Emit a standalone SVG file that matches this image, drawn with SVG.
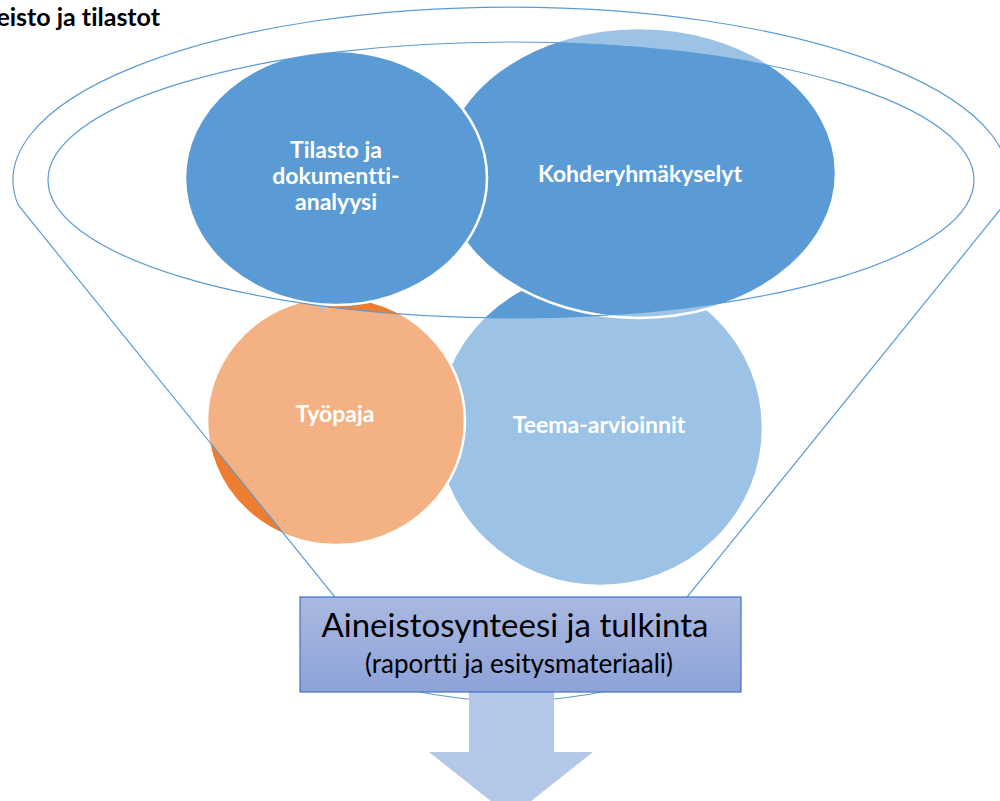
<svg xmlns="http://www.w3.org/2000/svg" width="1000" height="801" viewBox="0 0 1000 801">
  <defs>
    <linearGradient id="boxGrad" x1="0" y1="0" x2="0" y2="1">
      <stop offset="0" stop-color="#AAB9E1"/>
      <stop offset="1" stop-color="#8DA2D7"/>
    </linearGradient>
  </defs>
  <style>
    text { font-variant-ligatures: none; font-feature-settings: "liga" 0, "clig" 0; }
    .circ { stroke: #FFFFFF; stroke-width: 2.5; }
    .blue { fill: #5B9BD5; }
    .orange { fill: #ED7D31; }
    .lbl { font-family: Lato, "Open Sans", sans-serif; font-weight: bold; font-size: 23px; fill: #FFFFFF; text-anchor: middle; }
    .funnelLine { fill: none; stroke: #5B9BD5; stroke-width: 1.2; }
    .boxTxt { font-family: Lato, "Open Sans", sans-serif; fill: #000000; text-anchor: middle; }
  </style>
  <rect width="1000" height="801" fill="#FFFFFF"/>

  <text id="title" x="160" y="26" text-anchor="end" font-family="Lato, 'Open Sans', sans-serif" font-weight="bold" font-size="25" fill="#000000">Aineisto ja tilastot</text>

  <g id="node-teema">
    <ellipse class="circ blue" cx="600" cy="428" rx="163" ry="158"/>
  </g>
  <g id="node-tyopaja">
    <ellipse class="circ orange" cx="336" cy="421" rx="129" ry="124"/>
  </g>
  <g id="node-kohderyhma">
    <ellipse class="circ blue" cx="639" cy="173" rx="197" ry="145"/>
  </g>
  <g id="node-tilasto">
    <ellipse class="circ blue" cx="336" cy="178" rx="151" ry="127"/>
  </g>

  <g id="funnel">
    <path d="M 18.2 205 A 498 173 0 1 1 1003.8 205 L 612 690 Q 511 712 410 690 Z M 48 180 A 463 138 0 1 0 974 180 A 463 138 0 1 0 48 180 Z" fill="#FFFFFF" fill-opacity="0.4" fill-rule="evenodd" stroke="none"/>
    <path class="funnelLine" d="M 18.2 205 A 498 173 0 1 1 1003.8 205 L 612 690 Q 511 712 410 690 Z"/>
    <ellipse class="funnelLine" cx="511" cy="180" rx="463" ry="138"/>
  </g>

  <g id="labels">
    <text class="lbl" x="336" y="158">Tilasto ja</text>
    <text class="lbl" x="336" y="184">dokumentti-</text>
    <text class="lbl" x="336" y="210">analyysi</text>
    <text class="lbl" x="640" y="182">Kohderyhmäkyselyt</text>
    <text class="lbl" x="335" y="422">Työpaja</text>
    <text class="lbl" x="599" y="433">Teema-arvioinnit</text>
  </g>

  <g id="connectors">
    <path id="arrow" d="M 469 690 L 554 690 L 554 752 L 593 752 L 511 817 L 429 752 L 469 752 Z" fill="#B4C7E7"/>
  </g>

  <g id="node-synteesi">
    <rect x="300" y="597" width="441" height="95" fill="url(#boxGrad)" stroke="#4472C4" stroke-width="1.2"/>
    <text class="boxTxt" x="515" y="637" font-size="33">Aineistosynteesi ja tulkinta</text>
    <text class="boxTxt" x="519" y="673" font-size="26">(raportti ja esitysmateriaali)</text>
  </g>
</svg>
